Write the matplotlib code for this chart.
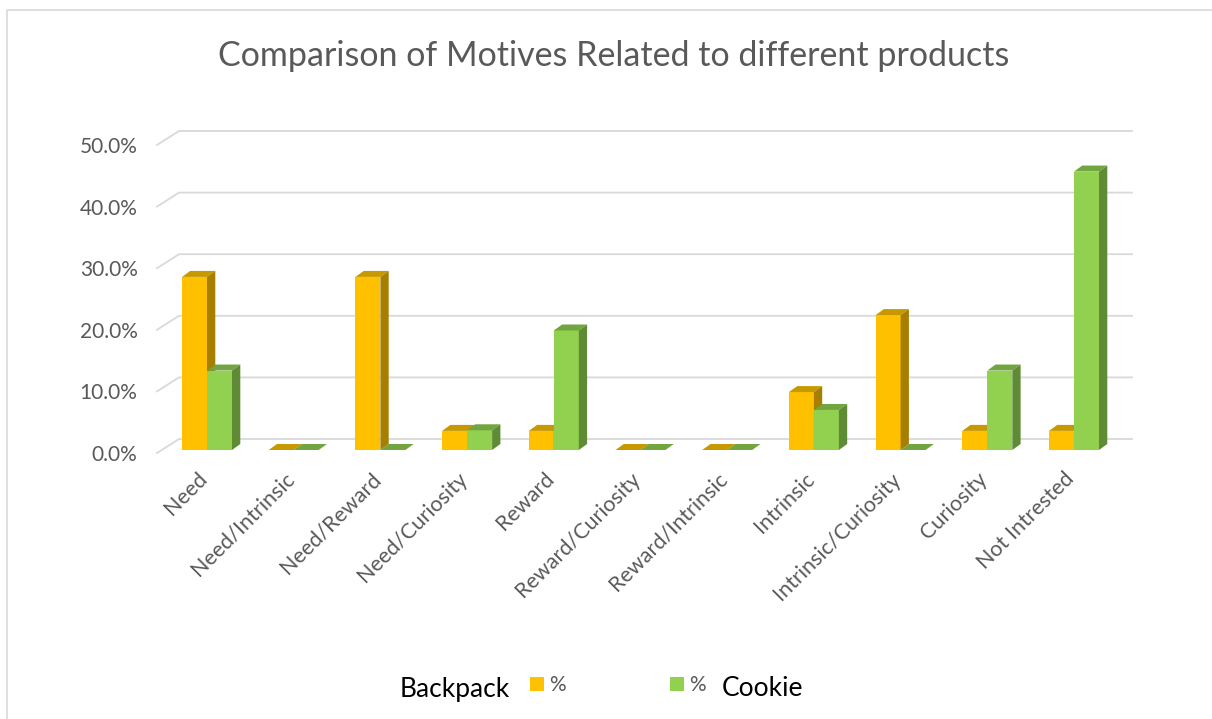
import numpy as np
import matplotlib
matplotlib.use('Agg')
import matplotlib.pyplot as plt
from matplotlib.patches import Polygon, Patch
from matplotlib.lines import Line2D
from matplotlib.transforms import ScaledTranslation

plt.rcParams['font.family'] = ['Lato', 'DejaVu Sans']

categories = ['Need', 'Need/Intrinsic', 'Need/Reward', 'Need/Curiosity', 'Reward',
              'Reward/Curiosity', 'Reward/Intrinsic', 'Intrinsic', 'Intrinsic/Curiosity',
              'Curiosity', 'Not Intrested']
backpack = [28.1, 0, 28.1, 3.1, 3.1, 0, 0, 9.4, 21.9, 3.1, 3.1]
cookie = [12.9, 0, 0, 3.2, 19.4, 0, 0, 6.5, 0, 12.9, 45.2]
yticks = [0, 10, 20, 30, 40, 50]

W, H = 1212, 719
fig = plt.figure(figsize=(W / 100, H / 100), dpi=100)

# pixel scale of the front plane
px_x = 1 / 86.7   # categories per pixel
px_y = 1 / 6.16   # percent per pixel
x0, x1 = -50 * px_x, 925 * px_x
ax = fig.add_axes([157 / W, (H - 450) / H, 975 / W, 330 / H])
ax.set_xlim(x0, x1)
ax.set_ylim(0, 330 * px_y)
for s in ax.spines.values():
    s.set_visible(False)

# back wall gridlines (oblique)
for v in yticks:
    xs = [x0, x0 + 22 * px_x, x1]
    ys = [v - 3 * px_y, v + 11 * px_y, v + 11 * px_y]
    ax.plot(xs, ys, color='#D9D9D9', lw=1.3, zorder=1, clip_on=False)

bw = 25 * px_x
dx, dy = 8.3 * px_x, 6 * px_y
series = [
    (backpack, -bw / 2, '#FFC000', '#C79800', '#A67E00'),
    (cookie, bw / 2, '#92D050', '#72A43F', '#5F8B34'),
]
xpos = np.arange(len(categories))
z = 3
for vals, off, front, top, side in series:
    for xi, v in zip(xpos, vals):
        left = xi + off - bw / 2
        right = left + bw
        ax.bar(left + bw / 2, v, width=bw, color=front, zorder=z, linewidth=0)
        ax.add_patch(Polygon([(left, v), (left + dx, v + dy), (right + dx, v + dy), (right, v)],
                             closed=True, facecolor=top, edgecolor='none', zorder=z))
        ax.add_patch(Polygon([(right, 0), (right + dx, dy), (right + dx, v + dy), (right, v)],
                             closed=True, facecolor=side, edgecolor='none', zorder=z))
    z += 1

ax.set_yticks(yticks, [f'{v:.1f}%' for v in yticks])
ax.tick_params(axis='y', length=0, pad=14, labelsize=15, labelcolor='#595959')
for lbl in ax.get_yticklabels():
    lbl.set_transform(lbl.get_transform() + ScaledTranslation(0, -3 / 100, fig.dpi_scale_trans))
ax.set_xticks(xpos, categories, rotation=45, ha='right', rotation_mode='anchor')
ax.tick_params(axis='x', length=0, pad=12, labelsize=15.5, labelcolor='#595959')
for lbl in ax.get_xticklabels():
    lbl.set_transform(lbl.get_transform() + ScaledTranslation(-10 / 100, -2 / 100, fig.dpi_scale_trans))

fig.text(613.5 / W, 1 - 56 / H, 'Comparison of Motives Related to different products',
         ha='center', va='center', fontsize=24.5, color='#595959')

# legend
handles = [Patch(facecolor='#FFC000', label='%'), Patch(facecolor='#92D050', label='%')]
fig.legend(handles=handles, loc='center left', bbox_to_anchor=(530 / W, 1 - 685 / H),
           ncol=2, frameon=False, fontsize=15, labelcolor='#595959', borderpad=0,
           borderaxespad=0, handlelength=0.67, handleheight=0.67, handletextpad=0.25,
           columnspacing=5.0)
fig.text(400 / W, 1 - 689 / H, 'Backpack', ha='left', va='center', fontsize=19, color='black')
fig.text(722 / W, 1 - 689 / H, 'Cookie', ha='left', va='center', fontsize=19, color='black')

# chart border (top and left edges are inside the picture)
fig.lines.append(Line2D([7 / W, 7 / W, 1.0], [0, 1 - 10 / H, 1 - 10 / H], transform=fig.transFigure,
                        color='#D9D9D9', lw=1.2))

fig.savefig('out.png', dpi=100)
